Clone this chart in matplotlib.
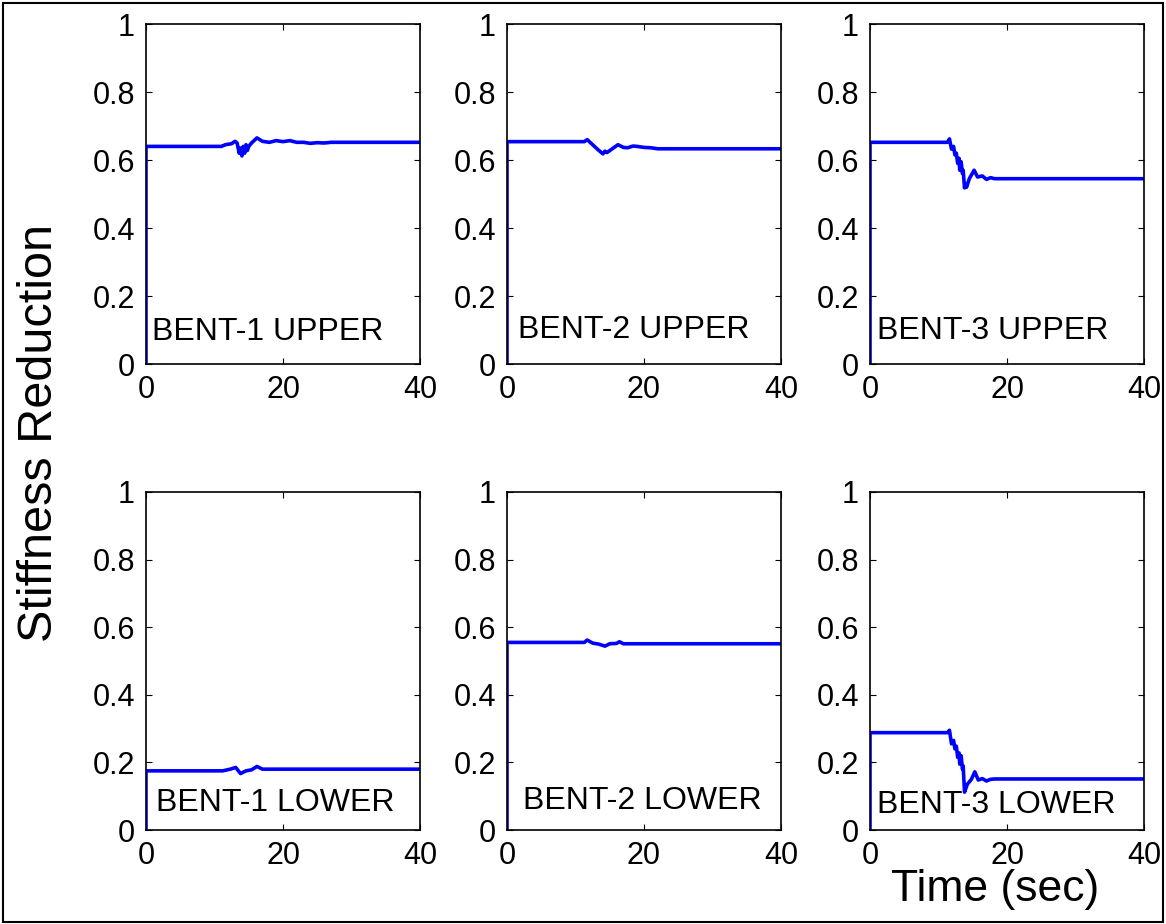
import numpy as np
import matplotlib
matplotlib.use("Agg")
import matplotlib.pyplot as plt
from matplotlib.patches import Rectangle

plt.rcParams['font.family'] = ['Liberation Sans', 'DejaVu Sans']

# time histories of stiffness reduction for each bent (t in sec)
t_b1u = [0, 0, 11.0, 11.6, 12.5, 13.0, 13.3, 13.6, 13.8, 14.0, 14.2, 14.4, 14.6, 14.8, 15.0, 15.4, 16.2, 17.0, 18.0, 19.0, 20.0, 21.0, 22.0, 23.0, 24.0, 25.0, 26.0, 27.0, 40]
v_b1u = [0, 0.640, 0.640, 0.645, 0.648, 0.655, 0.650, 0.620, 0.635, 0.612, 0.640, 0.620, 0.645, 0.628, 0.640, 0.650, 0.665, 0.655, 0.652, 0.657, 0.654, 0.657, 0.652, 0.652, 0.649, 0.651, 0.650, 0.652, 0.652]

t_b2u = [0, 0, 11.3, 11.7, 12.5, 13.3, 14.0, 14.3, 14.6, 15.3, 16.2, 17.0, 17.6, 18.4, 19.0, 20.0, 21.0, 22.0, 40]
v_b2u = [0, 0.654, 0.654, 0.660, 0.645, 0.630, 0.618, 0.626, 0.622, 0.632, 0.645, 0.637, 0.636, 0.641, 0.640, 0.637, 0.636, 0.633, 0.633]

t_b3u = [0, 0, 11.3, 11.6, 11.9, 12.2, 12.4, 12.6, 12.8, 13.0, 13.1, 13.3, 13.5, 13.6, 13.8, 13.9, 14.1, 14.5, 15.2, 15.7, 16.4, 17.0, 17.6, 18.2, 40]
v_b3u = [0, 0.652, 0.652, 0.662, 0.632, 0.640, 0.615, 0.620, 0.590, 0.605, 0.570, 0.595, 0.560, 0.570, 0.518, 0.530, 0.520, 0.545, 0.570, 0.550, 0.553, 0.543, 0.548, 0.545, 0.545]

t_b1l = [0, 0, 11.2, 12.3, 13.1, 13.8, 14.6, 15.4, 16.2, 17.0, 40]
v_b1l = [0, 0.175, 0.175, 0.180, 0.185, 0.167, 0.175, 0.178, 0.188, 0.180, 0.180]

t_b2l = [0, 0, 11.3, 11.7, 12.5, 13.4, 14.3, 15.0, 16.0, 16.4, 17.0, 40]
v_b2l = [0, 0.555, 0.555, 0.562, 0.553, 0.550, 0.544, 0.551, 0.552, 0.557, 0.551, 0.551]

t_b3l = [0, 0, 11.3, 11.6, 11.9, 12.2, 12.4, 12.6, 12.8, 13.0, 13.1, 13.3, 13.5, 13.6, 13.8, 14.2, 14.8, 15.3, 15.8, 16.4, 17.0, 17.6, 18.2, 40]
v_b3l = [0, 0.288, 0.288, 0.295, 0.255, 0.265, 0.240, 0.248, 0.215, 0.228, 0.195, 0.220, 0.180, 0.190, 0.112, 0.135, 0.150, 0.172, 0.148, 0.152, 0.145, 0.150, 0.151, 0.151]

series = [(t_b1u, v_b1u), (t_b2u, v_b2u), (t_b3u, v_b3u),
          (t_b1l, v_b1l), (t_b2l, v_b2l), (t_b3l, v_b3l)]
names = ["BENT-1 UPPER", "BENT-2 UPPER", "BENT-3 UPPER",
         "BENT-1 LOWER", "BENT-2 LOWER", "BENT-3 LOWER"]
label_y = [0.07, 0.076, 0.073, 0.056, 0.062, 0.05]
label_x = [0.9, 1.6, 1.0, 1.4, 2.3, 1.0]

W, H = 1166, 924
fig = plt.figure(figsize=(W / 100, H / 100), dpi=100)

lefts = [146, 507, 870]
tops = [24, 492]
bottoms = [364, 830]

for i in range(6):
    r, c = divmod(i, 3)
    l = lefts[c] / W
    b = 1 - bottoms[r] / H
    h = (bottoms[r] - tops[r]) / H
    ax = fig.add_axes([l, b, 274 / W, h])
    t, v = series[i]
    ax.plot(t, v, color='blue', lw=2.6)
    ax.set_xlim(0, 40)
    ax.set_ylim(0, 1)
    ax.set_xticks([0, 20, 40])
    ax.set_yticks([0, 0.2, 0.4, 0.6, 0.8, 1])
    ax.set_yticklabels(["0", "0.2", "0.4", "0.6", "0.8", "1"])
    ax.tick_params(direction='in', length=4, width=0.8, top=True, right=True,
                   labelsize=22, pad=8)
    for s in ax.spines.values():
        s.set_linewidth(1.2)
    ax.text(label_x[i], label_y[i], names[i], fontsize=23, va='baseline', ha='left')

fig.text(40 / W, 1 - 433 / H, "Stiffness Reduction", rotation=90,
         fontsize=35, ha='center', va='center')
fig.text(995 / W, 1 - 890 / H, "Time (sec)", fontsize=32, ha='center', va='center')

fig.add_artist(Rectangle((3 / W, 2 / H), (W - 6) / W, (H - 5) / H, transform=fig.transFigure,
                         fill=False, edgecolor='black', lw=1.5))

fig.savefig("out.png", dpi=100)
